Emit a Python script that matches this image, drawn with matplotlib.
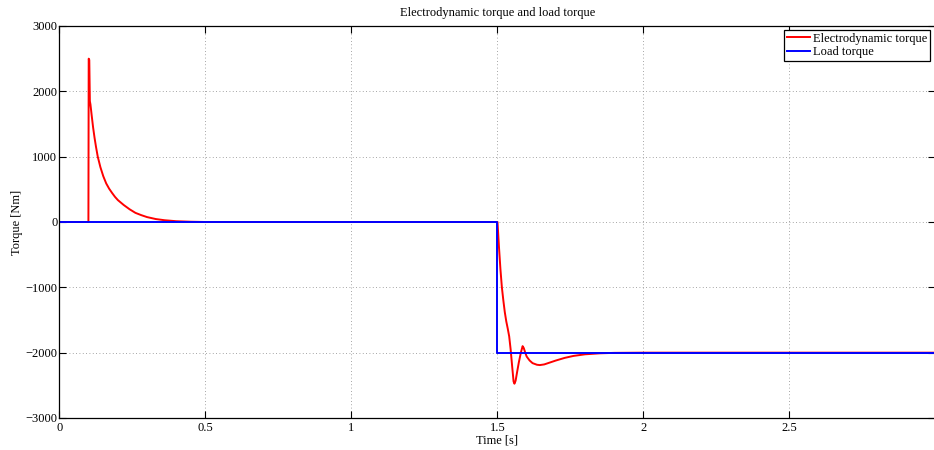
import matplotlib
matplotlib.use("Agg")
import matplotlib.pyplot as plt

# electrodynamic torque
t_el = [0, 0.099, 0.100, 0.102, 0.104, 0.106, 0.11, 0.115, 0.12, 0.125, 0.131, 0.14,
        0.15, 0.16, 0.17, 0.18, 0.19, 0.20, 0.22, 0.24, 0.26, 0.28, 0.30, 0.33, 0.36,
        0.40, 0.45, 0.5,
        1.5, 1.505, 1.51, 1.515, 1.52, 1.525, 1.53, 1.535, 1.54, 1.545, 1.55, 1.555,
        1.558, 1.562, 1.567, 1.573, 1.58, 1.586, 1.59, 1.595, 1.60, 1.61, 1.62, 1.635,
        1.645, 1.66, 1.68, 1.70, 1.73, 1.76, 1.80, 1.85, 1.9, 2.0, 3.0]
T_el = [0, 0, 2500, 2480, 1850, 1800, 1640, 1450, 1290, 1150, 1000, 840,
        700, 590, 510, 445, 385, 335, 260, 195, 140, 105, 75, 45, 27,
        12, 4, 0,
        0, -380, -720, -1000, -1200, -1380, -1520, -1630, -1750, -1950, -2200, -2440,
        -2475, -2430, -2300, -2150, -2000, -1900, -1930, -2000, -2060, -2120, -2160, -2185,
        -2190, -2180, -2150, -2120, -2080, -2050, -2025, -2010, -2003, -2000, -2000]

# load torque
t_load = [0, 1.5, 1.5, 3.0]
T_load = [0, 0, -2000, -2000]

plt.rcParams['font.family'] = ['Liberation Serif', 'DejaVu Serif']
plt.rcParams['font.size'] = 9

fig = plt.figure(figsize=(9.34, 4.5), dpi=100)
ax = fig.add_axes([59.5/934, 32/450, 876/934, 392/450])

ax.plot(t_el, T_el, color='#ff0000', lw=1.4, label='Electrodynamic torque')
ax.plot(t_load, T_load, color='#0000ff', lw=1.4, label='Load torque')

ax.set_xlim(0, 3)
ax.set_ylim(-3000, 3000)
ax.set_xticks([0, 0.5, 1, 1.5, 2, 2.5])
ax.set_xticklabels(['0', '0.5', '1', '1.5', '2', '2.5'])
ax.set_yticks(range(-3000, 3001, 1000))
ax.tick_params(direction='in', length=5, width=0.8, top=True, right=True)
ax.tick_params(axis='x', pad=3)
ax.tick_params(axis='y', pad=1.5)
ax.grid(True, linestyle=(0, (1, 3)), color='#888888', lw=0.6)
for s in ax.spines.values():
    s.set_linewidth(0.9)

ax.set_title('Electrodynamic torque and load torque', fontsize=9, pad=7)
ax.set_xlabel('Time [s]', labelpad=0)
ax.set_ylabel('Torque [Nm]', labelpad=2)

leg = ax.legend(loc='upper right', bbox_to_anchor=(0.9966, 0.997), fancybox=False,
                edgecolor='black', framealpha=1, borderpad=0.25, handlelength=1.85,
                handletextpad=0.2, labelspacing=0.1, borderaxespad=0.2, fontsize=9)
leg.get_frame().set_linewidth(0.9)

fig.savefig('out.png', dpi=100)
